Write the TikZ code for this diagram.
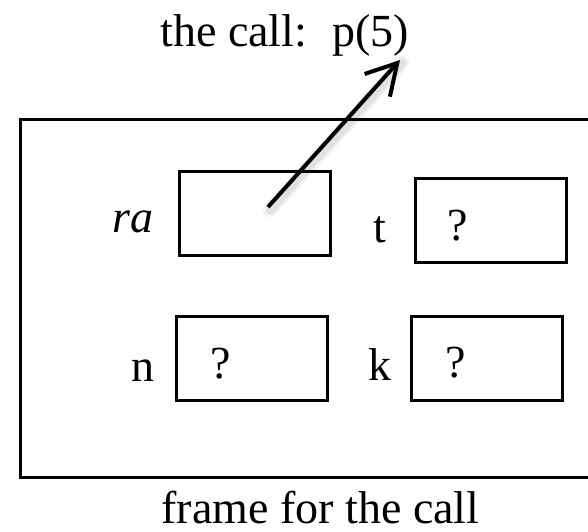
\documentclass[tikz,border=0pt]{standalone}
\usepackage{fontspec}
\setmainfont{Liberation Serif}
\usepackage{tikz}
\usetikzlibrary{arrows.meta}

\begin{document}
\begin{tikzpicture}[
    x=0.5pt, y=-0.5pt,
    slot/.style={draw, line width=1.5pt, inner sep=0pt,
      minimum width=75.5pt, minimum height=42pt},
    txt/.style={inner sep=0pt, font=\fontsize{23}{27}\selectfont}
  ]
  \useasboundingbox (0,0) rectangle (588,531);

  % the frame and its slots
  \node[draw, line width=1.5pt, inner sep=0pt,
    minimum width=290pt, minimum height=179pt] (frame) at (310,298) {};
  \node[slot] (ra) at (255,213) {};
  \node[slot] (t) at (491,220) {};
  \node[slot] (n) at (251.5,358.5) {};
  \node[slot] (k) at (487,358) {};

  % names and contents
  \node[txt, anchor=base] (ralbl) at (133,232) {\itshape ra};
  \node[txt, anchor=base] (tlbl) at (380,242) {t};
  \node[txt, anchor=base] (nlbl) at (143,381) {n};
  \node[txt, anchor=base] (klbl) at (380,380) {k};
  \node[txt, anchor=base] (tval) at (458,240) {?};
  \node[txt, anchor=base] (nval) at (221,378) {?};
  \node[txt, anchor=base] (kval) at (456,377) {?};

  % the call and the return address
  \node[txt, anchor=base west] (call) at (160,46) {the call:\hspace{12.5pt}p(5)};
  \node[txt, anchor=base west] (caption) at (161,523) {frame for the call};
  \coordinate (raptr) at (268,207);
  \coordinate (tip) at (400,60);
  \draw[black, line width=7pt, line cap=round, opacity=0.05,
    transform canvas={shift={(1pt,-1.5pt)}}] (raptr) -- (tip);
  \draw[black, line width=4.5pt, line cap=round, opacity=0.07,
    transform canvas={shift={(1pt,-1.5pt)}}] (raptr) -- (tip);
  \draw[line width=2pt, -{Straight Barb[length=15pt, width=17pt]}] (raptr) -- (tip);
\end{tikzpicture}
\end{document}
